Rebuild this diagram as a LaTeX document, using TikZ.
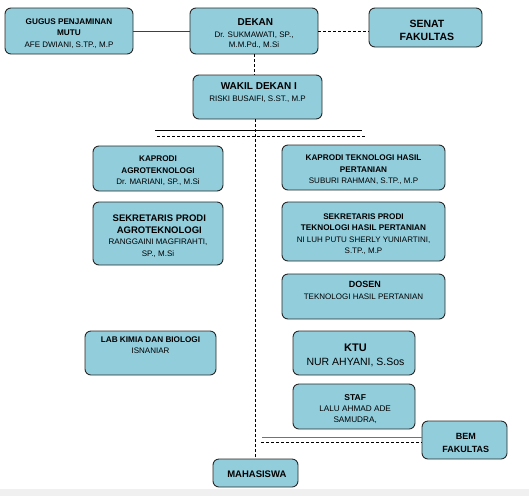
\documentclass[tikz,border=0pt]{standalone}
\usepackage{fontspec}
\setmainfont{Liberation Sans}
\definecolor{boxblue}{RGB}{146,205,220}
\definecolor{boxline}{RGB}{40,40,40}
\definecolor{bandgray}{RGB}{240,240,240}
\newcommand{\bs}{\fontsize{8.2}{11}\selectfont\bfseries}
\newcommand{\rs}{\fontsize{8}{11}\selectfont}
\newcommand{\bb}[1]{\fontsize{#1}{12}\selectfont\bfseries}
\newcommand{\rb}[1]{\fontsize{#1}{12}\selectfont}

\begin{document}
\begin{tikzpicture}[x=1pt,y=-1pt,
  unit/.style={draw=boxline, fill=boxblue, line width=0.9pt, rounded corners=6pt},
  txt/.style={align=center, inner sep=0pt, yshift=-2.5pt, font=\fontsize{8}{11.5}\selectfont},
  dashline/.style={draw=black, line width=0.8pt, dash pattern=on 3pt off 2pt},
  solidline/.style={draw=black!75, line width=0.9pt}]

\useasboundingbox (0,0) rectangle (529,496);
\fill [bandgray] (0,489) rectangle (529,496);

\node [unit, minimum width=128pt, minimum height=46pt,
  label={[txt]center:{\bs GUGUS PENJAMINAN\\ \bs MUTU\\ \rs AFE DWIANI, S.TP., M.P}}] (gugus) at (69,31) {};
\node [unit, minimum width=128pt, minimum height=46pt,
  label={[txt, font=\fontsize{8}{10.5}\selectfont]center:{\bb{10} DEKAN\\[1.5pt] \rs Dr. SUKMAWATI, SP.,\\ \rs M.M.Pd., M.Si}}] (dekan) at (254,31) {};
\node [unit, minimum width=113pt, minimum height=39pt,
  label={[txt, font=\fontsize{10}{13}\selectfont]center:{\bb{10.5} SENAT\\ \bb{10.5} FAKULTAS}}] (senat) at (425.5,27.5) {};
\node [unit, minimum width=129pt, minimum height=44pt,
  label={[txt, font=\fontsize{8}{12}\selectfont]center:{\bb{10} WAKIL DEKAN I\\ \rs RISKI BUSAIFI, S.ST., M.P\\[2pt]}}] (wakil) at (257.5,97) {};

\node [unit, minimum width=130pt, minimum height=45pt,
  label={[txt]center:{\bs KAPRODI\\ \bs AGROTEKNOLOGI\\ \rs Dr. MARIANI, SP., M.Si}}] (kaagro) at (158,168.5) {};
\node [unit, minimum width=130pt, minimum height=63pt,
  label={[txt]center:{\bb{9.5} SEKRETARIS PRODI\\ \bb{9.5} AGROTEKNOLOGI\\ \rs RANGGAINI MAGFIRAHTI,\\ \rs SP., M.Si}}] (sekagro) at (158,233.5) {};
\node [unit, minimum width=163pt, minimum height=45pt,
  label={[txt]center:{\bs KAPRODI TEKNOLOGI HASIL\\ \bs PERTANIAN\\ \rs SUBURI RAHMAN, S.TP., M.P}}] (kathp) at (363.5,167.5) {};
\node [unit, minimum width=163pt, minimum height=59pt,
  label={[txt]center:{\bs SEKRETARIS PRODI\\ \bs TEKNOLOGI HASIL PERTANIAN\\ \rs NI LUH PUTU SHERLY YUNIARTINI,\\ \rs S.TP., M.P}}] (sekthp) at (363.5,231.5) {};
\node [unit, minimum width=163pt, minimum height=45pt,
  label={[txt, font=\fontsize{8}{12}\selectfont]center:{\bb{9} DOSEN\\ \rs TEKNOLOGI HASIL PERTANIAN\\[5pt]}}] (dosen) at (363.5,296.5) {};
\node [unit, minimum width=131pt, minimum height=44pt,
  label={[txt]center:{\bs LAB KIMIA DAN BIOLOGI\\ \rs ISNANIAR\\[9pt]}}] (lab) at (150.5,353) {};
\node [unit, minimum width=122pt, minimum height=44pt,
  label={[txt, font=\fontsize{10}{14}\selectfont]center:{\bb{11} KTU\\ \rb{10.5} NUR AHYANI, S.Sos}}] (ktu) at (354,353) {};
\node [unit, minimum width=122pt, minimum height=45pt,
  label={[txt, font=\fontsize{8}{11}\selectfont]center:{\bb{8.5} STAF\\ \rb{8.2} LALU AHMAD ADE\\ \rb{8.2} SAMUDRA,}}] (staf) at (354,406.5) {};
\node [unit, minimum width=85pt, minimum height=38pt,
  label={[txt, font=\fontsize{9}{13}\selectfont]center:{\bb{9} BEM\\ \bb{9} FAKULTAS}}] (bem) at (464.5,440) {};
\node [unit, minimum width=85pt, minimum height=28pt,
  label={[txt, yshift=1pt]center:{\bb{9.5} MAHASISWA}}] (mhs) at (255.5,473) {};

\coordinate (solid l) at (155,130);
\coordinate (solid r) at (362,130);
\coordinate (dash l) at (157,136);
\coordinate (dash r) at (365,136);
\coordinate (bem solid) at (262,437);
\coordinate (bem dash) at (261,442);

\draw [solidline] (gugus.east) -- (dekan.west);
\draw [dashline] (dekan.east) -- (dekan.east -| senat.west);
\draw [dashline] (dekan.south) -- (dekan.south |- wakil.north);
\draw [dashline] (mhs.north |- wakil.south) -- (mhs.north);
\draw [draw=black, line width=0.9pt] (solid l) -- (solid r);
\draw [dashline] (dash l) -- (dash r);
\draw [draw=black!55, line width=0.9pt] (bem solid) -- (bem solid -| bem.west);
\draw [dashline] (bem dash) -- (bem dash -| bem.west);
\end{tikzpicture}
\end{document}
